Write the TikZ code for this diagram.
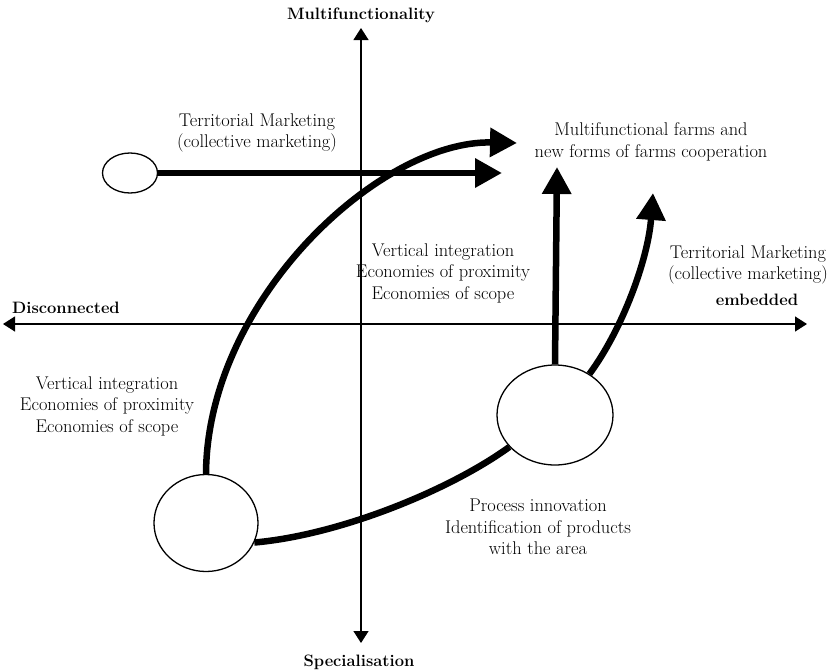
\documentclass[tikz,border=0pt]{standalone}
\usetikzlibrary{arrows.meta,shapes.geometric}
\begin{document}
\begin{tikzpicture}[x=1pt,y=-1pt,
  lbl/.style={align=center,inner sep=0pt,font=\fontsize{18.4}{21.5}\selectfont},
  axislbl/.style={inner sep=0pt,font=\fontsize{16.5}{20}\selectfont\bfseries},
  axis/.style={line width=1.3pt,{Triangle[length=12pt,width=15pt]}-{Triangle[length=12pt,width=15pt]}},
  hub/.style={draw,line width=1.3pt,ellipse,inner sep=0pt},
  flow/.style={line width=6.5pt,-{Triangle[length=27pt,width=28pt]}},
  link/.style={line width=6.5pt}]
\useasboundingbox (0,0) rectangle (833,672);

% axes
\coordinate (xl) at (3,324);
\coordinate (xr) at (807,324);
\coordinate (yt) at (361,28);
\coordinate (yb) at (361,643);
\draw[axis] (xl) -- (xr);
\draw[axis] (yb) -- (yt);

% axis labels
\node[axislbl] (ytop) at (361,15) {Multifunctionality};
\node[axislbl] (ybot) at (359,662) {Specialisation};
\node[axislbl,anchor=west] (xleft) at (12,308) {Disconnected};
\node[axislbl] (xright) at (757,300) {embedded};

% nodes
\node[hub,minimum width=55pt,minimum height=40pt] (small) at (130,173) {};
\node[hub,minimum width=104pt,minimum height=97pt] (left) at (206,523) {};
\node[hub,minimum width=116pt,minimum height=100pt] (right) at (555,415) {};

% arrow targets
\coordinate (tipA) at (502,173);
\coordinate (tipB) at (517,143);
\coordinate (tipC) at (557,167);
\coordinate (tipD) at (653,193);

% connectors
\draw[flow] (small.east) -- (tipA);
\draw[flow] (left.north) .. controls (207,300) and (380,140) .. (tipB);
\draw[link] (left.-22) .. controls (340,535) and (450,490) .. (right.215);
\draw[flow] (right.north) -- (tipC);
\draw[flow] (right.50) .. controls (622,330) and (648,260) .. (tipD);

% texts
\node[lbl] (tm1) at (257,133) {Territorial Marketing\\(collective marketing)};
\node[lbl] (goal) at (651,142) {Multifunctional farms and\\new forms of farms cooperation};
\node[lbl] (tm2) at (748,265) {Territorial Marketing\\(collective marketing)};
\node[lbl] (vi1) at (443,273) {Vertical integration\\Economies of proximity\\Economies of scope};
\node[lbl] (vi2) at (107,406) {Vertical integration\\Economies of proximity\\Economies of scope};
\node[lbl] (proc) at (538,527) {Process innovation\\Identification of products\\with the area};
\end{tikzpicture}
\end{document}
